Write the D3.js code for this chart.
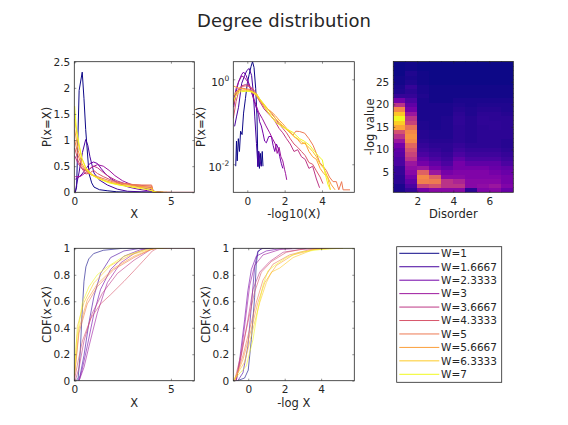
<!DOCTYPE html>
<html lang="en">
<script src="https://d3js.org/d3.v7.min.js"></script>
<style>
  body { margin: 0; background: white; }
  text { font-family: "DejaVu Sans", sans-serif; fill: #262626; }
  .tick text { font-size: 10.5px; }
  .lab { font-size: 11.5px; }
</style>
<body>
<svg id="fig" width="568" height="425"></svg>
<script>
// disorder values, one curve per value
var W = [1, 1.6667, 2.3333, 3, 3.6667, 4.3333, 5, 5.6667, 6.3333, 7];
var legendLabels = ["W=1", "W=1.6667", "W=2.3333", "W=3", "W=3.6667", "W=4.3333", "W=5", "W=5.6667", "W=6.3333", "W=7"];

// P(x=X) against X, one list of [X, P] per W
var pdfLin = [
  [[0.05,0],[0.12,0.1],[0.25,1.95],[0.41,2.3],[0.5,1.8],[0.59,1.2],[0.76,0.36],[0.9,0.18],[1.02,0.1],[1.3,0.05],[1.7,0.03],[2.2,0.01],[3,0],[4.5,0]],
  [[0.05,0],[0.12,0.15],[0.24,0.37],[0.42,0.76],[0.59,1.01],[0.7,0.9],[0.81,0.68],[1.02,0.37],[1.28,0.24],[1.71,0.14],[2.23,0.06],[2.75,0.02],[3.5,0.01],[4.5,0]],
  [[0.05,0.25],[0.2,0.28],[0.4,0.35],[0.6,0.45],[0.8,0.55],[1.0,0.58],[1.2,0.55],[1.4,0.45],[1.6,0.36],[1.9,0.26],[2.3,0.17],[2.8,0.1],[3.3,0.06],[3.8,0.03],[4.2,0.01],[4.5,0]],
  [[0.05,0.3],[0.3,0.3],[0.6,0.38],[0.9,0.48],[1.2,0.53],[1.5,0.5],[1.8,0.42],[2.1,0.32],[2.5,0.22],[3.0,0.14],[3.5,0.09],[4.0,0.05],[4.2,0.01],[4.6,0]],
  [[0.02,0.7],[0.2,0.55],[0.4,0.45],[0.6,0.42],[0.8,0.45],[1.0,0.5],[1.2,0.47],[1.5,0.38],[1.8,0.3],[2.2,0.22],[2.6,0.17],[3.0,0.14],[3.5,0.11],[4.0,0.09],[4.1,0],[4.6,0]],
  [[0.02,0.85],[0.2,0.6],[0.4,0.45],[0.6,0.35],[0.8,0.37],[1.0,0.42],[1.2,0.36],[1.5,0.3],[2.0,0.22],[2.5,0.17],[3.0,0.15],[3.5,0.13],[4.0,0.12],[4.1,0],[6.2,0]],
  [[0.02,1.0],[0.2,0.7],[0.4,0.5],[0.6,0.4],[0.9,0.33],[1.2,0.3],[1.6,0.25],[2.0,0.2],[2.5,0.17],[3.0,0.15],[3.5,0.14],[4.0,0.14],[4.1,0],[5.0,0]],
  [[0.02,1.2],[0.2,0.8],[0.4,0.55],[0.6,0.42],[0.9,0.33],[1.2,0.28],[1.6,0.22],[2.0,0.18],[2.5,0.15],[3.0,0.13],[3.5,0.11],[4.0,0.1],[4.1,0],[4.8,0]],
  [[0.02,1.4],[0.2,0.95],[0.4,0.65],[0.6,0.47],[0.9,0.35],[1.2,0.28],[1.6,0.22],[2.0,0.17],[2.5,0.13],[3.0,0.11],[3.5,0.09],[4.0,0.07],[4.1,0],[4.6,0]],
  [[0.02,1.65],[0.1,1.25],[0.21,1.0],[0.38,0.65],[0.6,0.45],[0.9,0.33],[1.3,0.25],[1.8,0.18],[2.3,0.14],[2.8,0.11],[3.3,0.08],[3.8,0.05],[4.1,0.02],[4.3,0],[4.6,0]]
];

// P(x=X) against -log10(X), log y
var pdfLog = [
  [[-0.62,0.009],[-0.58,0.035],[-0.54,0.012],[-0.48,0.04],[-0.42,0.02],[-0.36,0.06],[-0.28,0.05],[-0.2,0.16],[-0.1,0.35],[0.0,0.8],[0.1,1.3],[0.2,2.0],[0.28,2.6],[0.36,1.9],[0.45,0.6],[0.52,0.13],[0.57,0.009],[0.6,0.02],[0.65,0.008],[0.7,0.018],[0.75,0.009],[0.8,0.02],[0.84,0.009]],
  [[-0.68,0.078],[-0.58,0.13],[-0.47,0.22],[-0.3,0.8],[-0.15,1.2],[-0.03,1.6],[0.1,1.8],[0.23,1.23],[0.32,0.5],[0.4,0.13],[0.49,0.031],[0.57,0.0087],[0.62,0.02],[0.68,0.012],[0.75,0.009]],
  [[-0.73,0.22],[-0.6,0.5],[-0.47,0.87],[-0.3,1.3],[-0.2,1.48],[-0.06,1.23],[0.15,0.66],[0.4,0.27],[0.6,0.15],[0.66,0.1],[0.75,0.08],[0.84,0.054],[0.93,0.035],[1.02,0.032],[1.15,0.045],[1.29,0.045],[1.38,0.028],[1.47,0.02],[1.56,0.03],[1.65,0.024],[1.74,0.015],[1.82,0.0105],[1.9,0.008]],
  [[-0.75,0.3],[-0.6,0.6],[-0.45,0.9],[-0.3,1.2],[-0.15,1.1],[0.0,0.9],[0.2,0.55],[0.4,0.3],[0.6,0.17],[0.8,0.12],[1.0,0.08],[1.2,0.055],[1.35,0.04],[1.5,0.03],[1.6,0.018],[1.7,0.025],[1.8,0.015],[1.9,0.012],[2.0,0.0074],[2.05,0.006],[2.11,0.0043]],
  [[-0.75,0.25],[-0.6,0.45],[-0.45,0.6],[-0.3,0.7],[-0.1,0.75],[0.1,0.7],[0.3,0.55],[0.5,0.4],[0.7,0.28],[0.9,0.2],[1.1,0.16],[1.3,0.13],[1.5,0.1],[1.7,0.07],[1.9,0.055],[2.1,0.04],[2.3,0.03],[2.5,0.02],[2.7,0.022],[2.9,0.015],[3.1,0.013],[3.3,0.008],[3.5,0.009],[3.7,0.0045],[3.87,0.0028]],
  [[-0.75,0.12],[-0.6,0.3],[-0.45,0.55],[-0.3,0.68],[-0.1,0.7],[0.1,0.68],[0.3,0.6],[0.5,0.45],[0.7,0.32],[0.9,0.24],[1.1,0.2],[1.3,0.16],[1.5,0.12],[1.7,0.09],[1.9,0.07],[2.1,0.055],[2.3,0.04],[2.5,0.03],[2.7,0.025],[2.9,0.02],[3.1,0.016],[3.3,0.011],[3.5,0.01],[3.7,0.007],[3.9,0.005],[4.05,0.0035]],
  [[-0.75,0.25],[-0.6,0.45],[-0.45,0.6],[-0.3,0.62],[-0.1,0.6],[0.1,0.58],[0.3,0.52],[0.5,0.42],[0.7,0.3],[0.9,0.22],[1.1,0.17],[1.38,0.12],[1.6,0.095],[1.91,0.078],[2.2,0.06],[2.45,0.049],[2.6,0.06],[2.8,0.059],[3.07,0.054],[3.3,0.04],[3.52,0.028],[3.7,0.018],[3.88,0.011],[4.05,0.009],[4.23,0.0072],[4.4,0.005],[4.59,0.0039],[4.77,0.0039],[4.9,0.0025],[5.05,0.0039],[5.13,0.0025],[5.5,0.0025]],
  [[-0.75,0.7],[-0.6,0.65],[-0.45,0.62],[-0.3,0.6],[-0.1,0.58],[0.1,0.55],[0.3,0.5],[0.5,0.4],[0.7,0.3],[0.9,0.24],[1.1,0.2],[1.3,0.17],[1.5,0.14],[1.7,0.11],[1.9,0.09],[2.1,0.07],[2.3,0.058],[2.5,0.045],[2.7,0.038],[2.9,0.03],[3.1,0.032],[3.3,0.02],[3.5,0.015],[3.7,0.013],[3.9,0.008],[4.1,0.006],[4.3,0.005],[4.5,0.0033],[4.7,0.0025]],
  [[-0.75,0.4],[-0.6,0.5],[-0.45,0.55],[-0.3,0.55],[-0.1,0.55],[0.1,0.53],[0.3,0.48],[0.5,0.42],[0.7,0.33],[0.9,0.26],[1.1,0.2],[1.3,0.15],[1.5,0.12],[1.7,0.1],[1.9,0.08],[2.1,0.065],[2.3,0.055],[2.5,0.045],[2.7,0.04],[2.9,0.034],[3.1,0.03],[3.3,0.025],[3.5,0.02],[3.7,0.015],[3.9,0.01],[4.1,0.008],[4.3,0.005],[4.45,0.0025]],
  [[-0.75,0.3],[-0.6,0.42],[-0.45,0.5],[-0.3,0.51],[-0.1,0.52],[0.1,0.52],[0.3,0.5],[0.5,0.45],[0.7,0.33],[0.9,0.25],[1.02,0.19],[1.3,0.13],[1.56,0.095],[1.8,0.08],[2.09,0.068],[2.45,0.056],[2.8,0.04],[3.05,0.035],[3.34,0.028],[3.6,0.02],[3.79,0.016],[4.02,0.0126],[4.14,0.0068],[4.32,0.0033],[4.45,0.0025]]
];

// CDF(x<X) against X
var cdfLin = [
  [[0.1,0],[0.2,0.02],[0.3,0.2],[0.4,0.5],[0.5,0.75],[0.6,0.86],[0.75,0.92],[1.0,0.96],[1.5,0.985],[2.5,1],[4.5,1]],
  [[0.2,0],[0.3,0.04],[0.5,0.19],[0.76,0.44],[1.02,0.64],[1.36,0.81],[1.88,0.93],[2.57,0.98],[3.43,1],[4.5,1]],
  [[0.25,0],[0.4,0.08],[0.67,0.26],[1.02,0.51],[1.36,0.69],[1.88,0.84],[2.57,0.94],[3.43,0.99],[4.2,1],[4.6,1]],
  [[0.25,0],[0.5,0.1],[0.76,0.26],[1.19,0.51],[1.71,0.74],[2.4,0.89],[3.09,0.96],[3.78,1.0],[4.6,1]],
  [[0.05,0],[0.25,0.1],[0.5,0.3],[0.93,0.51],[1.45,0.66],[2.23,0.81],[3.09,0.91],[3.95,0.99],[4.2,1],[4.6,1]],
  [[0,0],[0.2,0.15],[0.42,0.3],[0.85,0.47],[1.36,0.58],[1.88,0.65],[2.57,0.75],[3.09,0.83],[3.6,0.91],[4.04,0.98],[4.3,1],[6.2,1]],
  [[0,0.02],[0.24,0.36],[0.67,0.58],[1.19,0.71],[2.05,0.84],[3.09,0.93],[3.95,0.99],[4.2,1],[5.0,1]],
  [[0,0.03],[0.24,0.39],[0.67,0.61],[1.19,0.73],[2.05,0.85],[3.09,0.94],[3.95,0.99],[4.2,1],[4.8,1]],
  [[0,0.04],[0.16,0.41],[0.5,0.59],[1.02,0.74],[1.88,0.87],[2.92,0.95],[3.86,0.99],[4.2,1],[4.6,1]],
  [[0,0.05],[0.12,0.31],[0.42,0.59],[0.76,0.71],[1.19,0.8],[1.71,0.86],[2.57,0.94],[3.43,0.98],[3.95,1],[4.6,1]]
];

// CDF(x<X) against -log X
var cdfLog = [
  [[-0.6,0],[-0.2,0.02],[0,0.08],[0.17,0.31],[0.35,0.63],[0.44,0.88],[0.53,0.97],[0.72,1],[1.2,1]],
  [[-0.57,0],[-0.29,0.06],[-0.02,0.26],[0.17,0.56],[0.35,0.86],[0.53,0.98],[0.81,1],[1.4,1]],
  [[-0.66,0],[-0.47,0.16],[-0.2,0.46],[-0.02,0.68],[0.17,0.84],[0.44,0.94],[0.99,0.98],[1.91,1],[2.4,1]],
  [[-0.66,0],[-0.38,0.21],[-0.11,0.51],[0.08,0.72],[0.35,0.87],[0.81,0.95],[1.72,0.99],[2.82,1],[3.2,1]],
  [[-0.66,0],[-0.38,0.19],[-0.02,0.46],[0.26,0.69],[0.63,0.82],[1.18,0.9],[1.91,0.97],[2.82,0.99],[3.92,1],[4.3,1]],
  [[-0.75,0],[-0.38,0.21],[-0.02,0.44],[0.35,0.67],[0.72,0.82],[1.27,0.9],[2.09,0.97],[3.19,1],[4.4,1]],
  [[-0.75,0],[-0.29,0.19],[0.08,0.39],[0.44,0.59],[0.81,0.76],[1.36,0.88],[2.27,0.95],[3.37,0.99],[4.29,1],[5.2,1]],
  [[-0.75,0],[-0.29,0.16],[0.17,0.39],[0.53,0.59],[0.9,0.74],[1.54,0.87],[2.46,0.95],[3.56,0.99],[4.47,1],[5.0,1]],
  [[-0.84,0],[-0.2,0.14],[0.26,0.39],[0.63,0.59],[0.99,0.74],[1.27,0.82],[1.72,0.85],[2.46,0.93],[3.56,0.99],[4.66,1],[5.2,1]],
  [[-0.84,0],[-0.11,0.11],[0.26,0.31],[0.53,0.54],[0.81,0.72],[1.08,0.83],[1.45,0.87],[2.09,0.93],[2.82,0.97],[3.92,0.99],[5.02,1],[5.82,1]]
];

// -log value (rows 1..29) by disorder (columns = W), relative intensity
var logValues = d3.range(1, 30);
var heat = [
  [0.05,0.10,0.25,0.30,0.30,0.30,0.08,0.28,0.30,0.22],
  [0.05,0.15,0.50,0.55,0.45,0.45,0.30,0.32,0.35,0.28],
  [0.08,0.20,0.70,0.68,0.45,0.40,0.30,0.30,0.30,0.25],
  [0.08,0.25,0.72,0.60,0.30,0.30,0.28,0.28,0.28,0.25],
  [0.10,0.30,0.60,0.35,0.25,0.28,0.28,0.28,0.25,0.22],
  [0.10,0.32,0.35,0.25,0.20,0.25,0.25,0.25,0.22,0.20],
  [0.15,0.35,0.25,0.20,0.15,0.25,0.20,0.20,0.20,0.15],
  [0.15,0.45,0.20,0.15,0.12,0.20,0.15,0.15,0.15,0.12],
  [0.18,0.50,0.15,0.12,0.10,0.15,0.12,0.12,0.12,0.10],
  [0.20,0.55,0.12,0.10,0.08,0.12,0.10,0.10,0.10,0.08],
  [0.25,0.62,0.10,0.08,0.08,0.10,0.08,0.08,0.08,0.07],
  [0.35,0.72,0.08,0.07,0.07,0.08,0.07,0.08,0.08,0.07],
  [0.45,0.75,0.07,0.06,0.06,0.08,0.07,0.08,0.08,0.08],
  [0.55,0.72,0.07,0.06,0.06,0.08,0.07,0.08,0.08,0.08],
  [0.80,0.65,0.06,0.05,0.06,0.08,0.07,0.08,0.09,0.08],
  [0.90,0.50,0.06,0.05,0.06,0.09,0.07,0.09,0.09,0.08],
  [1.00,0.45,0.05,0.05,0.06,0.09,0.07,0.09,0.08,0.08],
  [0.88,0.35,0.05,0.05,0.05,0.08,0.06,0.08,0.08,0.07],
  [0.72,0.25,0.05,0.05,0.05,0.07,0.06,0.07,0.07,0.06],
  [0.45,0.20,0.05,0.05,0.05,0.06,0.05,0.06,0.06,0.06],
  [0.25,0.15,0.05,0.04,0.04,0.05,0.05,0.05,0.05,0.05],
  [0.10,0.10,0.06,0.04,0.04,0.04,0.04,0.04,0.04,0.04],
  [0.06,0.08,0.05,0.04,0.04,0.04,0.04,0.04,0.04,0.04],
  [0.05,0.10,0.05,0.04,0.04,0.04,0.04,0.04,0.04,0.04],
  [0.04,0.06,0.04,0.03,0.03,0.03,0.03,0.03,0.03,0.03],
  [0.04,0.05,0.04,0.03,0.03,0.03,0.03,0.03,0.03,0.03],
  [0.03,0.06,0.04,0.03,0.03,0.03,0.03,0.03,0.03,0.03],
  [0.03,0.04,0.03,0.03,0.03,0.03,0.03,0.03,0.03,0.03],
  [0.03,0.04,0.03,0.03,0.03,0.03,0.03,0.03,0.03,0.03]
];

var svg = d3.select("#fig");
svg.append("rect").attr("width", 568).attr("height", 425).attr("fill", "white");

var color = d3.scaleSequential(d3.interpolatePlasma).domain([1, 7]);
var heatColor = d3.scaleSequential(d3.interpolatePlasma).domain([0.03, 1]);
var num = d3.format("~g");

var clipN = 0;
function panel(x, y, xt, yt, xlab, ylab, ylabX, yfmt) {
  var g = svg.append("g");
  var xr = x.range(), yr = y.range();
  var body = g.append("g");
  var id = "clip" + (clipN++);
  svg.append("clipPath").attr("id", id).append("rect")
    .attr("x", xr[0]).attr("y", yr[1]).attr("width", xr[1] - xr[0]).attr("height", yr[0] - yr[1]);
  body.attr("clip-path", "url(#" + id + ")");

  var ax = g.append("g");
  ax.append("g").attr("transform", "translate(0," + yr[0] + ")")
    .call(d3.axisBottom(x).tickValues(xt).tickFormat(num).tickSizeInner(-2).tickSizeOuter(0).tickPadding(5));
  ax.append("g").attr("transform", "translate(0," + yr[1] + ")")
    .call(d3.axisTop(x).tickValues(xt).tickFormat("").tickSizeInner(-2).tickSizeOuter(0));
  var left = d3.axisLeft(y).tickValues(yt).tickFormat(yfmt || num).tickSizeInner(-2).tickSizeOuter(0).tickPadding(4);
  ax.append("g").attr("class", "yax").attr("transform", "translate(" + xr[0] + ",0)").call(left);
  ax.append("g").attr("transform", "translate(" + xr[1] + ",0)")
    .call(d3.axisRight(y).tickValues(yt).tickFormat("").tickSizeInner(-2).tickSizeOuter(0));
  ax.selectAll(".domain").remove();
  ax.selectAll(".tick line").attr("stroke", "#262626").attr("stroke-width", 0.5);
  ax.selectAll(".tick text").attr("fill", "#262626");
  g.append("rect").attr("x", xr[0]).attr("y", yr[1]).attr("width", xr[1] - xr[0]).attr("height", yr[0] - yr[1])
    .attr("fill", "none").attr("stroke", "#262626").attr("stroke-width", 0.8);

  g.append("text").attr("class", "lab").attr("x", (xr[0] + xr[1]) / 2).attr("y", yr[0] + 26)
    .attr("text-anchor", "middle").text(xlab);
  g.append("text").attr("class", "lab").attr("text-anchor", "middle")
    .attr("transform", "translate(" + ylabX + "," + (yr[0] + yr[1]) / 2 + ") rotate(-90)").text(ylab);
  return {g: g, body: body, ax: ax};
}

function drawLines(p, x, y, series, width) {
  var line = d3.line().x(function(d) { return x(d[0]); }).y(function(d) { return y(d[1]); });
  p.body.selectAll("path.s").data(series).enter().append("path")
    .attr("class", "s")
    .attr("d", line)
    .attr("fill", "none")
    .attr("stroke", function(d, i) { return color(W[i]); })
    .attr("stroke-width", width)
    .attr("stroke-linejoin", "round");
}

// title
svg.append("text").attr("x", 284).attr("y", 27).attr("text-anchor", "middle")
  .style("font-size", "18px").text("Degree distribution");

// 1: P(x=X) vs X
var x1 = d3.scaleLinear().domain([0, 6.21]).range([74.3, 194.3]);
var y1 = d3.scaleLinear().domain([0, 2.5]).range([192.3, 61.7]);
var p1 = panel(x1, y1, [0, 5], [0, 0.5, 1, 1.5, 2, 2.5], "X", "P(x=X)", 51);
drawLines(p1, x1, y1, pdfLin, 1);

// 2: P(x=X) vs -log10(X), log scale
var x2 = d3.scaleLinear().domain([-0.75, 5.73]).range([233.3, 354.3]);
var y2 = d3.scaleLog().domain([Math.pow(10, -2.66), Math.pow(10, 0.414)]).range([192.3, 61.7]);
var p2 = panel(x2, y2, [0, 2, 4], [0.01, 1], "-log10(X)", "P(x=X)", 205, function() { return "10"; });
p2.ax.selectAll(".yax .tick text").each(function(d) {
  var t = d3.select(this);
  t.attr("dy", "0.55em");
  t.append("tspan").attr("dy", "-0.6em").style("font-size", "7.5px").text(Math.round(Math.log10(d)));
});
drawLines(p2, x2, y2, pdfLog, 1);

// 3: heat map of -log value vs disorder
var x3 = d3.scaleLinear().domain([0.6667, 7.3333]).range([393.3, 513.3]);
var y3 = d3.scaleLinear().domain([0.5, 29.5]).range([192.3, 61.5]);
var p3 = panel(x3, y3, [2, 4, 6], [5, 10, 15, 20, 25], "Disorder", "-log value", 374);
var cells = [];
heat.forEach(function(row, r) {
  row.forEach(function(v, c) { cells.push({w: W[c], k: logValues[r], v: v}); });
});
var half = (W[1] - W[0]) / 2;
p3.body.selectAll("rect.c").data(cells).enter().append("rect")
  .attr("class", "c")
  .attr("shape-rendering", "crispEdges")
  .attr("x", function(d) { return x3(d.w - half); })
  .attr("width", function(d) { return x3(d.w + half) - x3(d.w - half) + 1; })
  .attr("y", function(d) { return y3(d.k + 0.5) - 0.5; })
  .attr("height", function(d) { return y3(d.k - 0.5) - y3(d.k + 0.5) + 1; })
  .attr("fill", function(d) { return heatColor(d.v); });

// 4: CDF vs X
var x4 = d3.scaleLinear().domain([0, 6.21]).range([74.3, 194.3]);
var y4 = d3.scaleLinear().domain([0, 1]).range([380.7, 248.3]);
var p4 = panel(x4, y4, [0, 5], [0, 0.2, 0.4, 0.6, 0.8, 1], "X", "CDF(x<X)", 51);
drawLines(p4, x4, y4, cdfLin, 0.6);

// 5: CDF vs -log X
var x5 = d3.scaleLinear().domain([-0.82, 5.82]).range([233.3, 354.3]);
var y5 = d3.scaleLinear().domain([0, 1]).range([380.7, 248.3]);
var p5 = panel(x5, y5, [0, 2, 4], [0, 0.2, 0.4, 0.6, 0.8, 1], "-log X", "CDF(x<X)", 210);
drawLines(p5, x5, y5, cdfLog, 0.6);

// legend
var lg = svg.append("g");
lg.append("rect").attr("x", 396.7).attr("y", 246.7).attr("width", 105).attr("height", 135.6)
  .attr("fill", "white").attr("stroke", "#262626").attr("stroke-width", 0.8);
var ly = d3.scalePoint().domain(legendLabels).range([253.3, 374.3]);
var items = lg.selectAll("g.item").data(legendLabels).enter().append("g").attr("class", "item");
items.append("line").attr("x1", 399.3).attr("x2", 439.3)
  .attr("y1", function(d) { return ly(d); }).attr("y2", function(d) { return ly(d); })
  .attr("stroke", function(d, i) { return color(W[i]); }).attr("stroke-width", 1);
items.append("text").attr("x", 441).attr("y", function(d) { return ly(d); }).attr("dy", "0.36em")
  .style("font-size", "10.5px").text(function(d) { return d; });
</script>
</body>
</html>
